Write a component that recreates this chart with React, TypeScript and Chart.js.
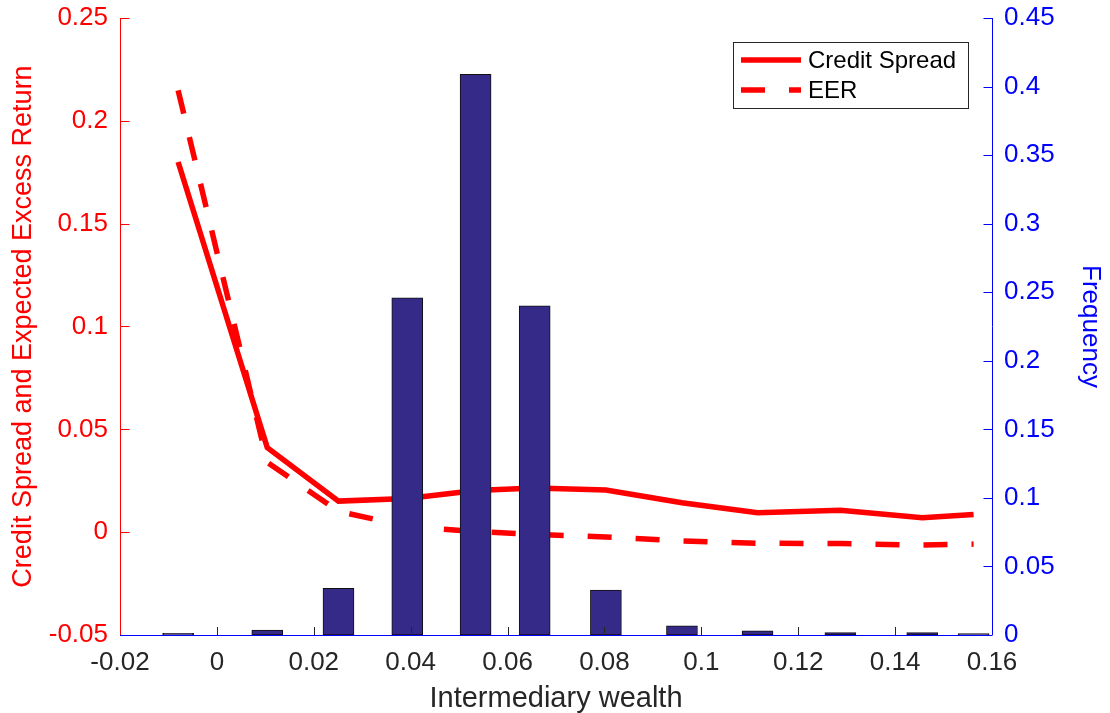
import React, { useEffect, useRef } from 'react';
import { Chart, registerables } from 'chart.js';

Chart.register(...registerables);

// ---- data ----
const wealth = [-0.008, 0.0104, 0.0251, 0.0393, 0.0534, 0.0656, 0.0803, 0.096, 0.1116, 0.1287, 0.1456, 0.1562];
const frequency = [0.0012, 0.0036, 0.034, 0.246, 0.409, 0.24, 0.0328, 0.0066, 0.003, 0.0018, 0.0018, 0.0011];
const creditSpread = [0.18, 0.0411, 0.0151, 0.0164, 0.0203, 0.0215, 0.0205, 0.0143, 0.0094, 0.0106, 0.007, 0.0086];
const eer = [0.2148, 0.034, 0.0101, 0.0028, 0.0003, -0.0011, -0.0023, -0.0043, -0.0054, -0.0055, -0.0063, -0.0058];

const seriesLabels = ['Credit Spread', 'EER'];
const barLabel = 'Frequency';

const xTicks = [-0.02, 0, 0.02, 0.04, 0.06, 0.08, 0.1, 0.12, 0.14, 0.16];
const xTickLabels = ['-0.02', '0', '0.02', '0.04', '0.06', '0.08', '0.1', '0.12', '0.14', '0.16'];
const leftTicks = [-0.05, 0, 0.05, 0.1, 0.15, 0.2, 0.25];
const leftTickLabels = ['-0.05', '0', '0.05', '0.1', '0.15', '0.2', '0.25'];
const rightTicks = [0, 0.05, 0.1, 0.15, 0.2, 0.25, 0.3, 0.35, 0.4, 0.45];
const rightTickLabels = ['0', '0.05', '0.1', '0.15', '0.2', '0.25', '0.3', '0.35', '0.4', '0.45'];

const xTitle = 'Intermediary wealth';
const leftTitle = 'Credit Spread and Expected Excess Return';
const rightTitle = 'Frequency';

const FAMILY = '"Liberation Sans", Arial, sans-serif';
const RED = '#ff0000';
const BLUE = '#0000ff';
const GRAY = '#262626';

const zeroPad = (s: any) => {
  s.paddingTop = 0;
  s.paddingBottom = 0;
  s.paddingLeft = 0;
  s.paddingRight = 0;
};

const decorPlugin = {
  id: 'decor',
  afterDraw(chart: any) {
    const { ctx, chartArea: a, scales } = chart;
    ctx.save();
    ctx.lineWidth = 1;
    // x ticks (inward)
    ctx.strokeStyle = GRAY;
    scales.x.ticks.forEach((t: any) => {
      const px = Math.round(scales.x.getPixelForValue(t.value)) + 0.5;
      ctx.beginPath();
      ctx.moveTo(px, a.bottom);
      ctx.lineTo(px, a.bottom - 8);
      ctx.stroke();
    });
    // left axis
    ctx.strokeStyle = RED;
    const lx = Math.round(a.left) + 0.5;
    ctx.beginPath();
    ctx.moveTo(lx, a.top);
    ctx.lineTo(lx, a.bottom);
    ctx.stroke();
    scales.y.ticks.forEach((t: any) => {
      const py = Math.round(scales.y.getPixelForValue(t.value)) + 0.5;
      ctx.beginPath();
      ctx.moveTo(lx, py);
      ctx.lineTo(lx + 9, py);
      ctx.stroke();
    });
    // right axis
    ctx.strokeStyle = BLUE;
    const rx = Math.round(a.right) + 0.5;
    ctx.beginPath();
    ctx.moveTo(rx, a.top);
    ctx.lineTo(rx, a.bottom);
    ctx.stroke();
    scales.y1.ticks.forEach((t: any) => {
      const py = Math.round(scales.y1.getPixelForValue(t.value)) + 0.5;
      ctx.beginPath();
      ctx.moveTo(rx, py);
      ctx.lineTo(rx - 9, py);
      ctx.stroke();
    });
    // bottom axis line
    const by = Math.round(a.bottom) + 0.5;
    ctx.beginPath();
    ctx.moveTo(a.left, by);
    ctx.lineTo(a.right, by);
    ctx.stroke();

    // legend
    const bx = 733.5, byy = 42.5, bw = 235, bh = 66;
    ctx.fillStyle = '#ffffff';
    ctx.fillRect(bx, byy, bw, bh);
    ctx.strokeStyle = GRAY;
    ctx.lineWidth = 1;
    ctx.strokeRect(bx, byy, bw, bh);
    const lineDs = chart.data.datasets.filter((d: any) => d.type === 'line');
    lineDs.forEach((d: any, i: number) => {
      const y = 60 + i * 30;
      ctx.strokeStyle = d.borderColor;
      ctx.lineWidth = d.borderWidth;
      ctx.lineCap = 'butt';
      ctx.setLineDash(d.borderDash || []);
      ctx.beginPath();
      ctx.moveTo(741, y);
      ctx.lineTo(801, y);
      ctx.stroke();
      ctx.setLineDash([]);
      ctx.fillStyle = '#000000';
      ctx.font = `24px ${FAMILY}`;
      ctx.textBaseline = 'middle';
      ctx.textAlign = 'left';
      ctx.fillText(d.label, 808, y + 1);
    });
    ctx.restore();
  },
};

export default function App() {
  const ref = useRef<HTMLCanvasElement | null>(null);
  useEffect(() => {
    if (!ref.current) return;
    const tickFont = { family: FAMILY, size: 26 };
    const chart = new Chart(ref.current, {
      type: 'bar',
      data: {
        datasets: [
          {
            type: 'bar',
            label: barLabel,
            data: wealth.map((x, i) => ({ x, y: frequency[i] })),
            xAxisID: 'x',
            yAxisID: 'y1',
            backgroundColor: '#352a87',
            borderColor: '#111111',
            borderWidth: 1,
            borderSkipped: false,
            barThickness: 31,
            order: 0,
          },
          {
            type: 'line',
            label: seriesLabels[0],
            data: wealth.map((x, i) => ({ x, y: creditSpread[i] })),
            xAxisID: 'x',
            yAxisID: 'y',
            borderColor: RED,
            borderWidth: 5.5,
            pointRadius: 0,
            fill: false,
            tension: 0,
            order: 1,
          },
          {
            type: 'line',
            label: seriesLabels[1],
            data: wealth.map((x, i) => ({ x, y: eer[i] })),
            xAxisID: 'x',
            yAxisID: 'y',
            borderColor: RED,
            borderWidth: 5.5,
            borderDash: [24, 24],
            borderCapStyle: 'butt',
            pointRadius: 0,
            fill: false,
            tension: 0,
            order: 2,
          },
        ],
      } as any,
      options: {
        responsive: false,
        animation: false,
        devicePixelRatio: 1,
        layout: { padding: { top: 18, left: 0, right: 0, bottom: 0 } },
        plugins: { legend: { display: false }, tooltip: { enabled: false } },
        scales: {
          x: {
            type: 'linear',
            position: 'bottom',
            min: -0.02,
            max: 0.16,
            offset: false,
            grid: { display: false, drawTicks: false },
            border: { display: false },
            afterBuildTicks: (s: any) => {
              s.ticks = xTicks.map((v) => ({ value: v }));
            },
            afterFit: (s: any) => {
              s.height = 78;
              zeroPad(s);
            },
            ticks: {
              callback: (_v: any, i: number) => xTickLabels[i],
              color: GRAY,
              font: tickFont,
              padding: 12,
              maxRotation: 0,
              autoSkip: false,
            },
            title: {
              display: true,
              text: xTitle,
              color: GRAY,
              font: { family: FAMILY, size: 29, lineHeight: 1 },
              padding: { top: 0, bottom: 0 },
            },
          },
          y: {
            type: 'linear',
            position: 'left',
            min: -0.05,
            max: 0.25,
            grid: { display: false, drawTicks: false },
            border: { display: false },
            afterBuildTicks: (s: any) => {
              s.ticks = leftTicks.map((v) => ({ value: v }));
            },
            afterFit: (s: any) => {
              s.width = 120;
              zeroPad(s);
            },
            ticks: {
              callback: (_v: any, i: number) => leftTickLabels[i],
              color: RED,
              font: tickFont,
              padding: 12,
            },
            title: {
              display: true,
              text: leftTitle,
              color: RED,
              font: { family: FAMILY, size: 27, lineHeight: 1 },
              padding: { top: 10, bottom: 0 },
            },
          },
          y1: {
            type: 'linear',
            position: 'right',
            min: 0,
            max: 0.45,
            grid: { display: false, drawTicks: false },
            border: { display: false },
            afterBuildTicks: (s: any) => {
              s.ticks = rightTicks.map((v) => ({ value: v }));
            },
            afterFit: (s: any) => {
              s.width = 118;
              zeroPad(s);
            },
            ticks: {
              callback: (_v: any, i: number) => rightTickLabels[i],
              color: BLUE,
              font: tickFont,
              padding: 12,
            },
            title: {
              display: true,
              text: rightTitle,
              color: BLUE,
              font: { family: FAMILY, size: 26, lineHeight: 1 },
              padding: { top: 7, bottom: 0 },
            },
          },
        },
      } as any,
      plugins: [decorPlugin],
    });
    return () => chart.destroy();
  }, []);

  return (
    <div style={{ position: 'absolute', left: 0, top: 0, width: 1110, height: 713, background: '#ffffff' }}>
      <canvas ref={ref} width={1110} height={713} style={{ display: 'block' }} />
    </div>
  );
}
